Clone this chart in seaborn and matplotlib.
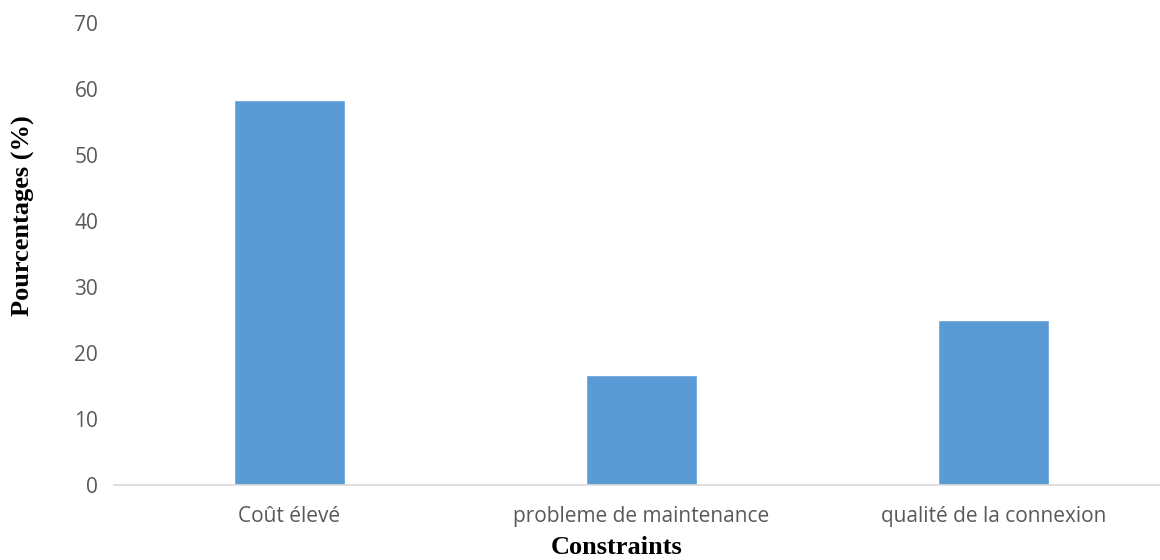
import matplotlib
matplotlib.use("Agg")
import matplotlib.pyplot as plt
import seaborn as sns
import pandas as pd

categories = ["Coût élevé", "probleme de maintenance", "qualité de la connexion"]
values = [58.33, 16.67, 25.0]
yticks = [0, 10, 20, 30, 40, 50, 60, 70]

sns.set_theme(style="white")
plt.rcParams['font.family'] = ['Open Sans', 'DejaVu Sans']

df = pd.DataFrame({"cat": categories, "val": values})

fig = plt.figure(figsize=(11.6, 5.6), dpi=100)
ax = fig.add_axes([113.5 / 1160, 1 - 485 / 560, 1 - 113.5 / 1160, (485 - 23) / 560])
sns.barplot(data=df, x="cat", y="val", color="#5B9BD5", saturation=1, width=0.315, ax=ax)

ax.set_ylim(0, 70)
ax.set_xlim(-0.5, (1160 - 113.5) / 352 - 0.5)
ax.set_yticks(yticks)
ax.set_yticklabels([str(t) for t in yticks])
for s in ["top", "right", "left"]:
    ax.spines[s].set_visible(False)
ax.spines["bottom"].set_color("#D9D9D9")
ax.spines["bottom"].set_linewidth(1.2)
ax.tick_params(axis="both", length=0, labelsize=15, labelcolor="#595959")
ax.tick_params(axis="y", pad=11)
ax.tick_params(axis="x", pad=15)

ax.set_xlabel("Constraints", fontsize=19, fontweight="bold", family="Liberation Serif", color="black", labelpad=6)
ax.set_ylabel("Pourcentages (%)", fontsize=19, fontweight="bold", family="Liberation Serif", color="black", labelpad=18)
ax.xaxis.set_label_coords((617 - 113.5) / (1160 - 113.5), -(548 - 485) / 462, transform=ax.transAxes)
ax.xaxis.label.set_va("center")
ax.yaxis.set_label_coords(-(113.5 - 23) / 1046.5, (485 - 216) / 462, transform=ax.transAxes)
ax.yaxis.label.set_va("center")

fig.savefig("out.png", dpi=100)
